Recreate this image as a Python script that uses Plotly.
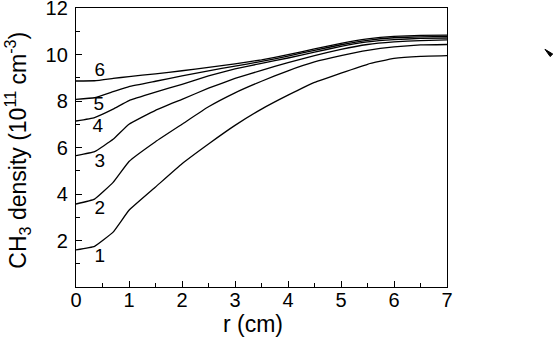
import plotly.graph_objects as go

# radial positions (cm)
r = [0, 0.35, 0.7, 1.0, 1.5, 2.0, 2.5, 3.0, 3.5, 4.0, 4.5, 5.0, 5.5, 6.0, 6.5, 7.0]

# CH3 density curves (1e11 cm^-3)
ch3_1 = [1.60, 1.75, 2.36, 3.30, 4.30, 5.30, 6.15, 6.95, 7.65, 8.25, 8.80, 9.20, 9.58, 9.83, 9.92, 9.95]
ch3_2 = [3.57, 3.78, 4.50, 5.40, 6.25, 7.00, 7.75, 8.35, 8.85, 9.30, 9.68, 9.95, 10.18, 10.33, 10.41, 10.43]
ch3_3 = [5.65, 5.82, 6.35, 7.00, 7.60, 8.07, 8.55, 8.97, 9.32, 9.65, 9.95, 10.22, 10.43, 10.54, 10.60, 10.63]
ch3_4 = [7.14, 7.29, 7.65, 8.02, 8.38, 8.72, 9.08, 9.38, 9.62, 9.85, 10.10, 10.35, 10.54, 10.64, 10.69, 10.71]
ch3_5 = [8.07, 8.14, 8.40, 8.62, 8.85, 9.08, 9.30, 9.50, 9.70, 9.93, 10.18, 10.42, 10.61, 10.72, 10.76, 10.78]
ch3_6 = [8.86, 8.87, 8.97, 9.05, 9.17, 9.30, 9.45, 9.60, 9.77, 9.99, 10.24, 10.48, 10.67, 10.78, 10.82, 10.83]

curves = [ch3_1, ch3_2, ch3_3, ch3_4, ch3_5, ch3_6]
curve_names = ["1", "2", "3", "4", "5", "6"]
label_x = [0.45, 0.45, 0.45, 0.41, 0.43, 0.45]
label_y = [1.3, 3.33, 5.35, 6.85, 7.83, 9.28]

fig = go.Figure()
for name, ys in zip(curve_names, curves):
    fig.add_trace(go.Scatter(x=r, y=ys, mode="lines", name=name,
                             line=dict(color="black", width=1.3, shape="spline", smoothing=0.3)))

fig.add_trace(go.Scatter(x=label_x, y=label_y, mode="text", text=curve_names,
                         textfont=dict(size=19, color="black", family="Liberation Sans")))

font = dict(family="Liberation Sans, Arial, sans-serif", size=20, color="black")

fig.update_layout(
    width=554, height=342,
    margin=dict(l=76, r=107, t=8, b=55),
    plot_bgcolor="white", paper_bgcolor="white",
    showlegend=False,
    font=font,
)
fig.update_xaxes(
    range=[0, 7], dtick=1, showgrid=False, zeroline=False, automargin=False,
    showline=True, linecolor="black", linewidth=1.3, mirror=True,
    ticks="inside", ticklen=6, tickcolor="black", ticklabelstandoff=-5,
    minor=dict(ticks="inside", dtick=0.5, ticklen=4, tickcolor="black"),
)
fig.update_yaxes(
    range=[0, 12], tickvals=[2, 4, 6, 8, 10, 12], showgrid=False, zeroline=False, automargin=False,
    showline=True, linecolor="black", linewidth=1.3, mirror=True, ticklabeloverflow="allow",
    ticks="inside", ticklen=6, tickcolor="black", ticklabelstandoff=3,
    minor=dict(ticks="inside", tickvals=[1, 3, 5, 7, 9, 11], ticklen=4, tickcolor="black"),
)

# axis titles
fig.add_annotation(xref="paper", yref="paper", x=0.476, y=-0.133, showarrow=False,
                   text="r (cm)", font=dict(size=23), xanchor="center", yanchor="middle")
fig.add_annotation(xref="paper", yref="paper", x=-0.158, y=0.49, showarrow=False, textangle=-90,
                   text="CH<sub>3</sub> density (10<sup>11</sup> cm<sup>-3</sup>)",
                   font=dict(size=23), xanchor="center", yanchor="middle")

# small stray arrow mark at right
fig.add_shape(type="path", xref="paper", yref="paper",
              path="M 1.264 0.852 L 1.285 0.835 L 1.278 0.826 Z",
              fillcolor="black", line=dict(color="black", width=1))

# drop the default page margin so the figure sits at the window's corner
fig.write_html("out.html", config={"displayModeBar": False},
               post_script="document.body.style.margin='0';")
